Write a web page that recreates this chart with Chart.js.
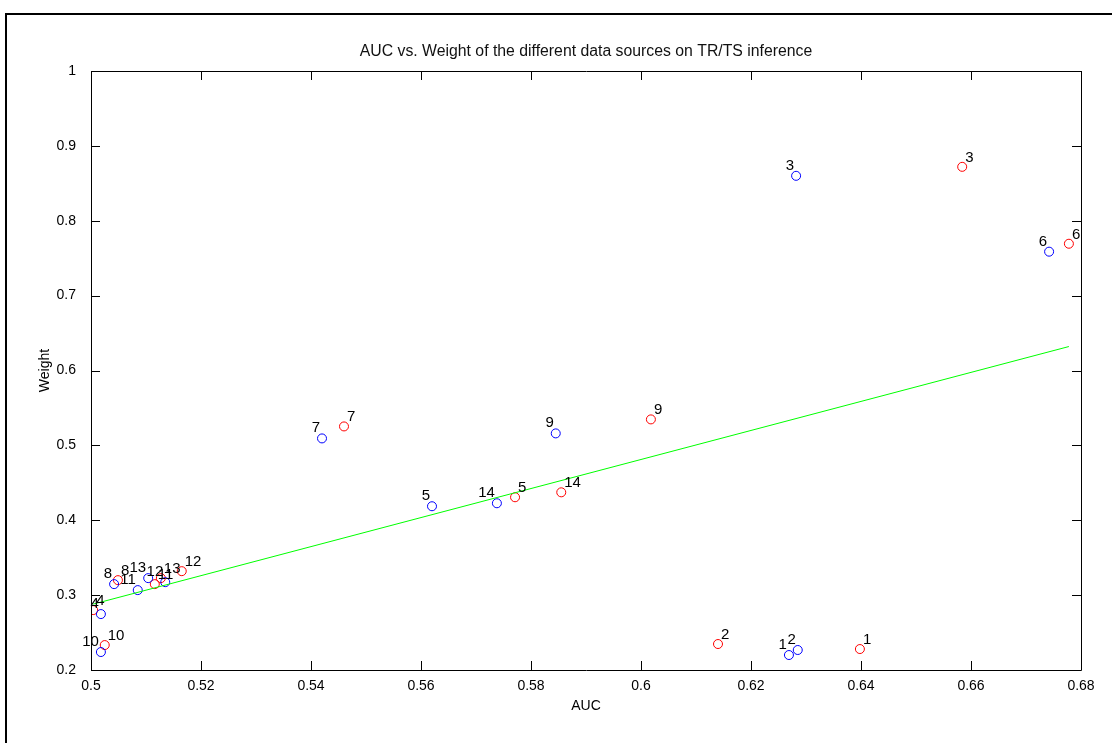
<!DOCTYPE html>
<html>
<head>
<meta charset="utf-8">
<script src="https://cdn.jsdelivr.net/npm/chart.js@4.4.1/dist/chart.umd.min.js"></script>
<style>
html,body{margin:0;padding:0;background:#fff;}
canvas{display:block;}
</style>
</head>
<body>
<canvas id="c" width="1112" height="743"></canvas>
<script>
// ---- data ----
const chartTitle = 'AUC vs. Weight of the different data sources on TR/TS inference';
const xAxisTitle = 'AUC';
const yAxisTitle = 'Weight';

const blueIds    = ['1','2','3','4','5','6','7','8','9','10','11','12','13','14'];
const blueAUC    = [0.6269, 0.6285, 0.6282, 0.5018, 0.5620, 0.6742, 0.5420, 0.5042, 0.5845, 0.5018, 0.5085, 0.5135, 0.5104, 0.5738];
const blueWeight = [0.2200, 0.2267, 0.8600, 0.2747, 0.4187, 0.7587, 0.5093, 0.3147, 0.5160, 0.2240, 0.3067, 0.3173, 0.3227, 0.4227];

const redIds     = ['1','2','3','4','5','6','7','8','9','10','11','12','13','14'];
const redAUC     = [0.6398, 0.6140, 0.6584, 0.5004, 0.5771, 0.6778, 0.5460, 0.5049, 0.6018, 0.5025, 0.5116, 0.5165, 0.5127, 0.5855];
const redWeight  = [0.2280, 0.2347, 0.8720, 0.2800, 0.4307, 0.7693, 0.5253, 0.3200, 0.5347, 0.2333, 0.3147, 0.3320, 0.3227, 0.4373];

const fitAUC     = [0.5004, 0.6778];
const fitWeight  = [0.2880, 0.6320];

const xTicks = [0.5, 0.52, 0.54, 0.56, 0.58, 0.6, 0.62, 0.64, 0.66, 0.68];
const yTicks = [0.2, 0.3, 0.4, 0.5, 0.6, 0.7, 0.8, 0.9, 1];

const FONT = "'Liberation Sans', Arial, Helvetica, sans-serif";

const pts = (xs, ys) => xs.map((x, i) => ({x: x, y: ys[i]}));

const labelPlugin = {
  id: 'pointLabels',
  afterDatasetsDraw(chart) {
    const ctx = chart.ctx;
    ctx.save();
    ctx.font = '15px ' + FONT;
    ctx.fillStyle = '#000';
    ctx.textBaseline = 'alphabetic';
    const b = chart.getDatasetMeta(1).data;
    ctx.textAlign = 'right';
    b.forEach((p, i) => ctx.fillText(blueIds[i], p.x - 2, p.y - 6));
    const r = chart.getDatasetMeta(2).data;
    ctx.textAlign = 'left';
    r.forEach((p, i) => ctx.fillText(redIds[i], p.x + 3, p.y - 5));
    ctx.restore();
  }
};

const boxPlugin = {
  id: 'matlabBox',
  beforeDraw(chart) {
    const ctx = chart.ctx;
    ctx.save();
    ctx.fillStyle = '#fff';
    ctx.fillRect(0, 0, chart.width, chart.height);
    // figure frame
    ctx.strokeStyle = '#000';
    ctx.lineWidth = 2;
    ctx.beginPath();
    ctx.moveTo(6, chart.height);
    ctx.lineTo(6, 14);
    ctx.lineTo(chart.width, 14);
    ctx.stroke();
    ctx.restore();
  },
  afterDraw(chart) {
    const ctx = chart.ctx;
    const a = chart.chartArea;
    const xs = chart.scales.x, ys = chart.scales.y;
    const L = 9;
    ctx.save();
    // title centred over the axes box
    ctx.fillStyle = '#111';
    ctx.font = '15.8px ' + FONT;
    ctx.textAlign = 'center';
    ctx.textBaseline = 'middle';
    ctx.fillText(chartTitle, (a.left + a.right) / 2, 52);
    ctx.strokeStyle = '#000';
    ctx.lineWidth = 1;
    ctx.beginPath();
    ctx.rect(Math.round(a.left) + 0.5, Math.round(a.top) + 0.5, Math.round(a.right - a.left), Math.round(a.bottom - a.top));
    xTicks.forEach(v => {
      const px = Math.round(xs.getPixelForValue(v)) + 0.5;
      ctx.moveTo(px, a.bottom); ctx.lineTo(px, a.bottom - L);
      ctx.moveTo(px, a.top); ctx.lineTo(px, a.top + L);
    });
    yTicks.forEach(v => {
      const py = Math.round(ys.getPixelForValue(v)) + 0.5;
      ctx.moveTo(a.left, py); ctx.lineTo(a.left + L, py);
      ctx.moveTo(a.right, py); ctx.lineTo(a.right - L, py);
    });
    ctx.stroke();
    ctx.restore();
  }
};

new Chart(document.getElementById('c'), {
  type: 'scatter',
  data: {
    datasets: [
      {
        type: 'line',
        data: pts(fitAUC, fitWeight),
        borderColor: '#00ff00',
        borderWidth: 1,
        pointRadius: 0,
        fill: false,
        tension: 0
      },
      {
        data: pts(blueAUC, blueWeight),
        pointStyle: 'circle',
        pointRadius: 4.5,
        borderColor: '#0000ff',
        backgroundColor: 'rgba(0,0,0,0)',
        borderWidth: 1
      },
      {
        data: pts(redAUC, redWeight),
        pointStyle: 'circle',
        pointRadius: 4.5,
        borderColor: '#ff0000',
        backgroundColor: 'rgba(0,0,0,0)',
        borderWidth: 1
      }
    ]
  },
  options: {
    responsive: false,
    animation: false,
    devicePixelRatio: 1,
    layout: { padding: { left: 0, right: 31, top: 71, bottom: 0 } },
    plugins: {
      legend: { display: false },
      tooltip: { enabled: false },
      title: { display: false }
    },
    scales: {
      x: {
        type: 'linear',
        min: 0.5, max: 0.68,
        afterBuildTicks: s => { s.ticks = xTicks.map(v => ({value: v})); },
        afterFit: s => { s.height = 73; s.paddingLeft = 0; s.paddingRight = 0; },
        grid: { display: false, drawTicks: false },
        border: { display: false },
        ticks: {
          color: '#000',
          padding: 8,
          maxRotation: 0,
          autoSkip: false,
          font: { family: FONT, size: 14 },
          callback: v => String(v)
        },
        title: {
          display: true,
          text: xAxisTitle,
          color: '#000',
          font: { family: FONT, size: 14 },
          padding: { top: 0, bottom: 28 }
        }
      },
      y: {
        type: 'linear',
        min: 0.2, max: 1,
        afterBuildTicks: s => { s.ticks = yTicks.map(v => ({value: v})); },
        afterFit: s => { s.width = 91; s.paddingTop = 0; s.paddingBottom = 0; },
        grid: { display: false, drawTicks: false },
        border: { display: false },
        ticks: {
          color: '#000',
          padding: 15,
          autoSkip: false,
          font: { family: FONT, size: 14 },
          callback: v => String(v)
        },
        title: {
          display: true,
          text: yAxisTitle,
          color: '#000',
          font: { family: FONT, size: 14 },
          padding: { top: 37, bottom: 0 }
        }
      }
    }
  },
  plugins: [boxPlugin, labelPlugin]
});
</script>
</body>
</html>
